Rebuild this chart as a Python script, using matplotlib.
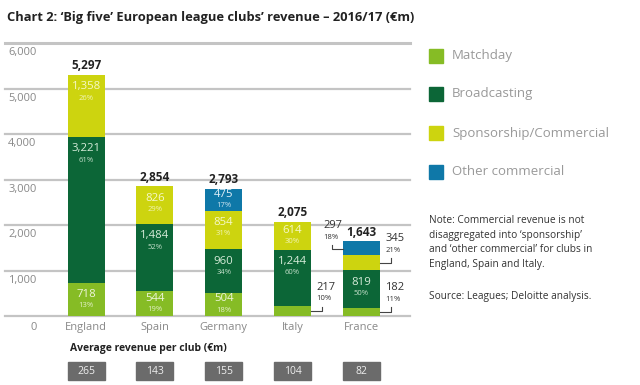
import numpy as np
import matplotlib.pyplot as plt
import matplotlib.transforms as mtransforms

plt.rcParams['font.family'] = ['Open Sans', 'DejaVu Sans']

# --- dane ---
countries = ['England', 'Spain', 'Germany', 'Italy', 'France']
matchday = [718, 544, 504, 217, 182]
broadcasting = [3221, 1484, 960, 1244, 819]
sponsorship = [1358, 826, 854, 614, 345]
other_commercial = [0, 0, 475, 0, 297]
pct_matchday = [13, 19, 18, 10, 11]
pct_broadcasting = [61, 52, 34, 60, 50]
pct_sponsorship = [26, 29, 31, 30, 21]
pct_other = [0, 0, 17, 0, 18]
totals = [5297, 2854, 2793, 2075, 1643]
avg_per_club = [265, 143, 155, 104, 82]
yticks = [0, 1000, 2000, 3000, 4000, 5000, 6000]

series_names = ['Matchday', 'Broadcasting', 'Sponsorship/Commercial', 'Other commercial']
colors = ['#86bc25', '#0c6637', '#cdd40f', '#0f78a8']
label_colors = ['#eef6dc', '#d6ecd9', '#f6f8c8', '#e2f0f8']

series = [matchday, broadcasting, sponsorship, other_commercial]
pcts = [pct_matchday, pct_broadcasting, pct_sponsorship, pct_other]

# segmenty opisane odnośnikami zamiast etykiet w środku
callout_segs = {(3, 0), (4, 0), (4, 2), (4, 3)}

fig = plt.figure(figsize=(6.4, 3.85), dpi=100)
ax = fig.add_axes([5 / 640, 69 / 385, 405 / 640, 273 / 385])
ax.set_xlim(-1.18, 4.71)
ax.set_ylim(0, 6000)
ax.axis('off')

x = np.arange(len(countries))
width = 0.54

# linie siatki
for t in yticks:
    ax.axhline(t, color='#c4c4c4', lw=1.6 if t < 6000 else 2.2, zorder=0, clip_on=False)
    if t > 0:
        ax.annotate(f'{t:,}', xy=(0.078, t), xycoords=('axes fraction', 'data'),
                    xytext=(0, -3), textcoords='offset points',
                    ha='right', va='top', fontsize=8, color='#888888')
ax.annotate('0', xy=(0.078, 0), xycoords=('axes fraction', 'data'),
            xytext=(0, -4), textcoords='offset points',
            ha='right', va='top', fontsize=8, color='#888888')

# słupki
px = ax.transData.transform((0, 1000))[1] - ax.transData.transform((0, 0))[1]  # px na 1000
bottom = np.zeros(len(countries))
for k, (vals, col) in enumerate(zip(series, colors)):
    vals = np.array(vals, dtype=float)
    ax.bar(x, vals, width, bottom=bottom, color=col, zorder=2)
    for i in range(len(countries)):
        v = vals[i]
        if v == 0 or (i, k) in callout_segs:
            continue
        top = bottom[i] + v
        center = max(top - 17.5 * 1000 / px, bottom[i] + v / 2)
        ax.annotate(f'{int(v):,}', xy=(x[i], center), xytext=(0, 4),
                    textcoords='offset points', ha='center', va='center',
                    fontsize=8.2, color=label_colors[k], zorder=3)
        ax.annotate(f'{pcts[k][i]}%', xy=(x[i], center), xytext=(0, -4.2),
                    textcoords='offset points', ha='center', va='center',
                    fontsize=5.5, color=label_colors[k], alpha=0.9, zorder=3)
    bottom += vals

# sumy
for i in range(len(countries)):
    ax.annotate(f'{totals[i]:,}', xy=(x[i], totals[i]), xytext=(0, 6.5),
                textcoords='offset points', ha='center', va='center',
                fontsize=8.5, fontweight='bold', color='#222222')

# etykiety z odnośnikami (Italy, France)
def callout(xi, yseg, text_val, text_pct, side):
    if side == 'right':
        x0 = xi + width / 2
        x1 = x0 + 0.16
        tx = x0 + 0.08
    else:
        x0 = xi - width / 2
        x1 = x0 - 0.16
        tx = x0 - 0.28
    ax.plot([x0, x1, x1], [yseg, yseg, yseg + 100], color='#444444', lw=0.8, zorder=3)
    ty = yseg + 100
    ax.annotate(text_val, xy=(tx, ty), xytext=(0, 14), textcoords='offset points',
                ha='left', va='center', fontsize=8, color='#333333')
    ax.annotate(text_pct, xy=(tx, ty), xytext=(0, 5.5), textcoords='offset points',
                ha='left', va='center', fontsize=5.5, color='#333333')

callout(x[3], matchday[3] / 2, f'{matchday[3]}', f'{pct_matchday[3]}%', 'right')
callout(x[4], matchday[4] / 2, f'{matchday[4]}', f'{pct_matchday[4]}%', 'right')
fr_sp = matchday[4] + broadcasting[4] + sponsorship[4] / 2
callout(x[4], fr_sp, f'{sponsorship[4]}', f'{pct_sponsorship[4]}%', 'right')
fr_oc = matchday[4] + broadcasting[4] + sponsorship[4] + other_commercial[4] * 0.4
callout(x[4], fr_oc, f'{other_commercial[4]}', f'{pct_other[4]}%', 'left')

# nazwy krajów
for i, c in enumerate(countries):
    ax.annotate(c, xy=(x[i], 0), xytext=(0, -4), textcoords='offset points',
                ha='center', va='top', fontsize=8, color='#888888')

# średni przychód na klub
blend = mtransforms.blended_transform_factory(ax.transData, fig.transFigure)
fig.text(70 / 640, 1 - 349 / 385, 'Average revenue per club (€m)', fontsize=7.5,
         fontweight='bold', color='#222222', va='center', ha='left')
for i, v in enumerate(avg_per_club):
    ax.add_patch(plt.Rectangle((x[i] - width / 2, 1 - 380 / 385), width, 18 / 385,
                               transform=blend, color='#6b6b6b', clip_on=False))
    ax.text(x[i], 1 - 371 / 385, str(v), transform=blend, ha='center', va='center',
            fontsize=7.5, color='#eeeeee')

# legenda
leg_y = [56, 94, 133, 172]
for name, col, yy in zip(series_names, colors, leg_y):
    fig.patches.append(plt.Rectangle((429 / 640, 1 - (yy + 7) / 385), 14 / 640, 14 / 385,
                                     transform=fig.transFigure, color=col))
    fig.text(452 / 640, 1 - yy / 385, name, fontsize=9.5, color='#999999', va='center')

note = ("Note: Commercial revenue is not\n"
        "disaggregated into \u2018sponsorship\u2019\n"
        "and \u2018other commercial\u2019 for clubs in\n"
        "England, Spain and Italy.")
fig.text(429 / 640, 1 - 215 / 385, note, fontsize=7.3, color='#333333',
         va='top', ha='left', linespacing=1.45)
fig.text(429 / 640, 1 - 297 / 385, 'Source: Leagues; Deloitte analysis.', fontsize=7.3,
         color='#333333', va='center', ha='left')

fig.text(7 / 640, 1 - 18 / 385,
         'Chart 2: \u2018Big five\u2019 European league clubs\u2019 revenue \u2013 2016/17 (\u20acm)',
         fontsize=9.3, fontweight='bold', color='#222222', va='center', ha='left')

fig.savefig('out.png', dpi=100, facecolor='white')
